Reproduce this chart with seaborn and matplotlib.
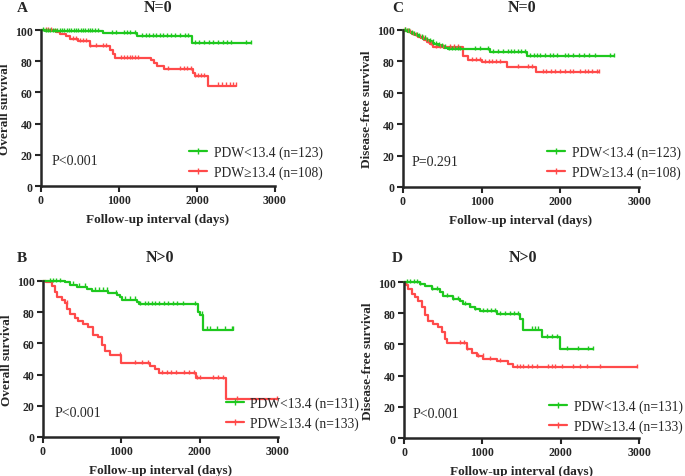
import numpy as np
import pandas as pd
import matplotlib
matplotlib.use("Agg")
import matplotlib.pyplot as plt
from matplotlib.lines import Line2D
import seaborn as sns

# Kaplan-Meier curves: event times (days), survival (%) after each event,
# last follow-up time and censor times.

# A: overall survival, N=0
A_lo_t = [0, 50, 795, 1225, 1938]
A_lo_s = [100, 99.2, 97.9, 96.0, 91.7]
A_lo_end = 2690
A_lo_cens = [25, 60, 90, 120, 150, 180, 210, 240, 270, 300, 330, 360, 390, 420, 450, 480, 510, 540,
             570, 600, 630, 660, 688, 733, 910, 966, 1064, 1100, 1140, 1200, 1290, 1340, 1390, 1430,
             1470, 1520, 1570, 1620, 1670, 1720, 1780, 1840, 1890, 1970, 2030, 2090, 2150, 2210,
             2270, 2330, 2390, 2440, 2632, 2690]
A_hi_t = [0, 196, 240, 325, 367, 474, 624, 880, 923, 953, 1415, 1449, 1491, 1577, 1949, 1970, 2141]
A_hi_s = [100, 98.5, 97.4, 96.0, 94.2, 92.7, 89.9, 87.4, 84.6, 82.2, 80.8, 78.8, 77.1, 74.8, 72.4, 70.4, 64.4]
A_hi_end = 2504
A_hi_cens = [64, 96, 128, 410, 453, 496, 538, 581, 624, 709, 795, 838, 1029, 1065, 1100, 1135, 1170,
             1205, 1244, 1628, 1778, 1828, 1878, 1927, 1980, 2017, 2053, 2090, 2269, 2320, 2370,
             2420, 2462, 2504]

# C: disease-free survival, N=0
C_lo_t = [0, 30, 60, 100, 130, 160, 190, 220, 260, 300, 330, 370, 400, 440, 480, 520, 570, 1106, 1572]
C_lo_s = [100, 99.5, 98.9, 98.2, 97.5, 96.8, 96.0, 95.3, 94.5, 93.6, 92.8, 91.9, 91.1, 90.3, 89.5,
          88.7, 87.8, 85.8, 83.4]
C_lo_end = 2686
C_lo_cens = [20, 45, 75, 110, 140, 175, 205, 240, 275, 310, 345, 385, 420, 460, 500, 534, 580, 620,
             660, 700, 725, 915, 979, 1085, 1145, 1210, 1270, 1330, 1370, 1410, 1460, 1500, 1551,
             1614, 1660, 1700, 1740, 1810, 1870, 1910, 1953, 2059, 2100, 2160, 2240, 2300, 2370,
             2441, 2631, 2686]
C_hi_t = [0, 40, 80, 110, 150, 190, 230, 270, 300, 340, 385, 767, 820, 1000, 1318, 1691]
C_hi_s = [100, 99.3, 98.5, 97.6, 96.6, 95.6, 94.6, 93.5, 92.4, 91.1, 89.0, 83.7, 80.9, 79.4, 76.2, 73.0]
C_hi_end = 2496
C_hi_cens = [30, 60, 95, 130, 170, 210, 250, 290, 320, 360, 420, 470, 510, 597, 650, 703, 873, 926,
             979, 1042, 1090, 1137, 1185, 1233, 1462, 1589, 1640, 1780, 1823, 1887, 1930, 1993, 2057,
             2120, 2163, 2248, 2312, 2355, 2398, 2466, 2496]

# B: overall survival, N>0
B_lo_t = [0, 281, 345, 430, 558, 621, 834, 949, 983, 1013, 1196, 1230, 1983, 2004, 2047]
B_lo_s = [100, 99.1, 97.6, 96.4, 94.9, 93.8, 92.3, 91.0, 89.5, 88.0, 86.3, 85.3, 79.9, 78.5, 68.8]
B_lo_end = 2421
B_lo_cens = [89, 130, 170, 217, 383, 460, 536, 664, 713, 763, 813, 932, 1047, 1110, 1174, 1238, 1300,
             1345, 1390, 1430, 1475, 1540, 1600, 1660, 1710, 1790, 1940, 2025, 2089, 2132, 2217,
             2323, 2409, 2421]
B_hi_t = [0, 43, 111, 153, 183, 238, 281, 311, 345, 409, 451, 515, 579, 634, 706, 749, 792, 855,
          996, 1366, 1430, 1485, 1953, 2340]
B_hi_s = [100, 99.3, 96.9, 92.7, 89.5, 87.8, 85.7, 82.0, 78.8, 76.3, 74.6, 72.4, 70.3, 65.2, 63.9,
          58.7, 55.3, 52.6, 47.2, 45.7, 43.6, 40.8, 37.8, 24.5]
B_hi_end = 2990
B_hi_cens = [302, 983, 1174, 1260, 1340, 1515, 1580, 1640, 1700, 1800, 1860, 1928, 1962, 2004, 2170,
             2235, 2298, 2477, 2990]

# D: disease-free survival, N>0
D_lo_t = [0, 204, 268, 353, 460, 502, 630, 715, 757, 843, 906, 970, 1183, 1481, 1520, 1758, 1991]
D_lo_s = [100, 98.8, 97.6, 95.6, 93.4, 90.8, 89.2, 87.6, 85.9, 84.2, 82.7, 81.2, 79.2, 76.3, 69.5,
          64.5, 57.2]
D_lo_end = 2417
D_lo_cens = [34, 80, 125, 170, 204, 353, 417, 545, 630, 694, 779, 843, 906, 1012, 1060, 1110, 1162,
             1225, 1290, 1350, 1400, 1460, 1630, 1672, 1715, 1822, 1886, 1950, 2077, 2225, 2353, 2417]
D_hi_t = [0, 25, 55, 98, 140, 183, 226, 268, 311, 374, 438, 481, 523, 553, 800, 864, 928, 1013,
          1183, 1332, 1396]
D_hi_s = [100, 98.0, 95.5, 92.3, 90.2, 88.0, 83.8, 78.6, 75.2, 73.1, 71.0, 67.7, 63.5, 60.7, 57.2,
          54.2, 52.6, 50.6, 49.2, 47.4, 45.2]
D_hi_end = 2978
D_hi_cens = [715, 760, 800, 949, 1012, 1098, 1225, 1438, 1480, 1522, 1587, 1630, 1693, 1842, 1885,
             1927, 2012, 2162, 2247, 2332, 2502, 2978]

panels = [
    # letter, title, ylabel, pval, n_lo, n_hi, curves
    ("A", "N=0", "Overall survival", "P<0.001", 123, 108,
     (A_lo_t, A_lo_s, A_lo_end, A_lo_cens), (A_hi_t, A_hi_s, A_hi_end, A_hi_cens)),
    ("C", "N=0", "Disease-free survival", "P=0.291", 123, 108,
     (C_lo_t, C_lo_s, C_lo_end, C_lo_cens), (C_hi_t, C_hi_s, C_hi_end, C_hi_cens)),
    ("B", "N>0", "Overall survival", "P<0.001", 131, 133,
     (B_lo_t, B_lo_s, B_lo_end, B_lo_cens), (B_hi_t, B_hi_s, B_hi_end, B_hi_cens)),
    ("D", "N>0", "Disease-free survival", "P<0.001", 131, 133,
     (D_lo_t, D_lo_s, D_lo_end, D_lo_cens), (D_hi_t, D_hi_s, D_hi_end, D_hi_cens)),
]

GREEN = "#1ec81e"
RED = "#ff4a4a"

sns.set_style("ticks")
plt.rcParams["font.family"] = ["Liberation Serif", "DejaVu Serif"]

W, H = 685, 477
fig = plt.figure(figsize=(W / 100, H / 100), dpi=100)

# axes boxes in pixels: left, top(y=100), right(x=3000), bottom(y=0)
boxes = [(41, 31, 275, 187), (403, 31, 639, 188), (43, 282, 278, 438), (404, 283, 639, 439)]
letter_pos = [(22, 8), (398, 8), (22, 258), (397, 258)]
title_pos = [(158, 8), (522, 8), (160, 258), (523, 258)]
p_pos = [(52, 162), (412, 163), (55, 414), (413, 415)]
leg_pos = [(189, 163), (547, 163), (226, 414), (549, 417)]


def draw_curve(ax, t, s, end, cens, color):
    x = list(t) + [end]
    y = list(s) + [s[-1]]
    df = pd.DataFrame({"x": x, "y": y})
    sns.lineplot(data=df, x="x", y="y", ax=ax, color=color, lw=1.6, drawstyle="steps-post",
                 estimator=None, sort=False, clip_on=False)
    idx = np.searchsorted(np.array(t), np.array(cens), side="right") - 1
    cdf = pd.DataFrame({"x": cens, "y": np.array(s)[idx]})
    ax.scatter(cdf["x"], cdf["y"] + 0.8, marker="|", s=11, color=color, linewidths=1.0,
               clip_on=False, zorder=3)


for i, (letter, title, ylab, pval, n_lo, n_hi, lo, hi) in enumerate(panels):
    l, t, r, b = boxes[i]
    ax = fig.add_axes([l / W, 1 - b / H, (r - l) / W, (b - t) / H])
    draw_curve(ax, *hi, RED)
    draw_curve(ax, *lo, GREEN)
    ax.set_xlim(0, 3000)
    ax.set_ylim(0, 100)
    ax.set_xticks([0, 1000, 2000, 3000])
    ax.set_yticks([0, 20, 40, 60, 80, 100])
    sns.despine(ax=ax)
    for sp in ("left", "bottom"):
        ax.spines[sp].set_linewidth(1.8)
    ax.tick_params(width=1.5, length=4, labelsize=8.5, pad=2)
    for lab in ax.get_xticklabels() + ax.get_yticklabels():
        lab.set_fontweight("bold")
    ax.set_xlabel("Follow-up interval (days)", fontsize=9.5, fontweight="bold", labelpad=4.5)
    ax.set_ylabel(ylab, fontsize=9.5, fontweight="bold", labelpad=3)

    fig.text(letter_pos[i][0] / W, 1 - letter_pos[i][1] / H, letter, fontsize=11,
             fontweight="bold", ha="center", va="center")
    fig.text(title_pos[i][0] / W, 1 - title_pos[i][1] / H, title, fontsize=11.5,
             fontweight="bold", ha="center", va="center")
    fig.text(p_pos[i][0] / W, 1 - p_pos[i][1] / H, pval, fontsize=10, ha="left", va="center")

    handles = [Line2D([], [], color=GREEN, lw=1.6, marker="|", markersize=4),
               Line2D([], [], color=RED, lw=1.6, marker="|", markersize=4)]
    labels = [f"PDW<13.4 (n={n_lo})", f"PDW≥13.4 (n={n_hi})"]
    ax.legend(handles, labels, loc="center left", frameon=False, fontsize=9.8,
              bbox_to_anchor=(leg_pos[i][0] / W, 1 - leg_pos[i][1] / H),
              bbox_transform=fig.transFigure, handlelength=1.35, handletextpad=0.45,
              labelspacing=0.45, borderpad=0, borderaxespad=0, numpoints=1)

fig.savefig("out.png", dpi=100)
